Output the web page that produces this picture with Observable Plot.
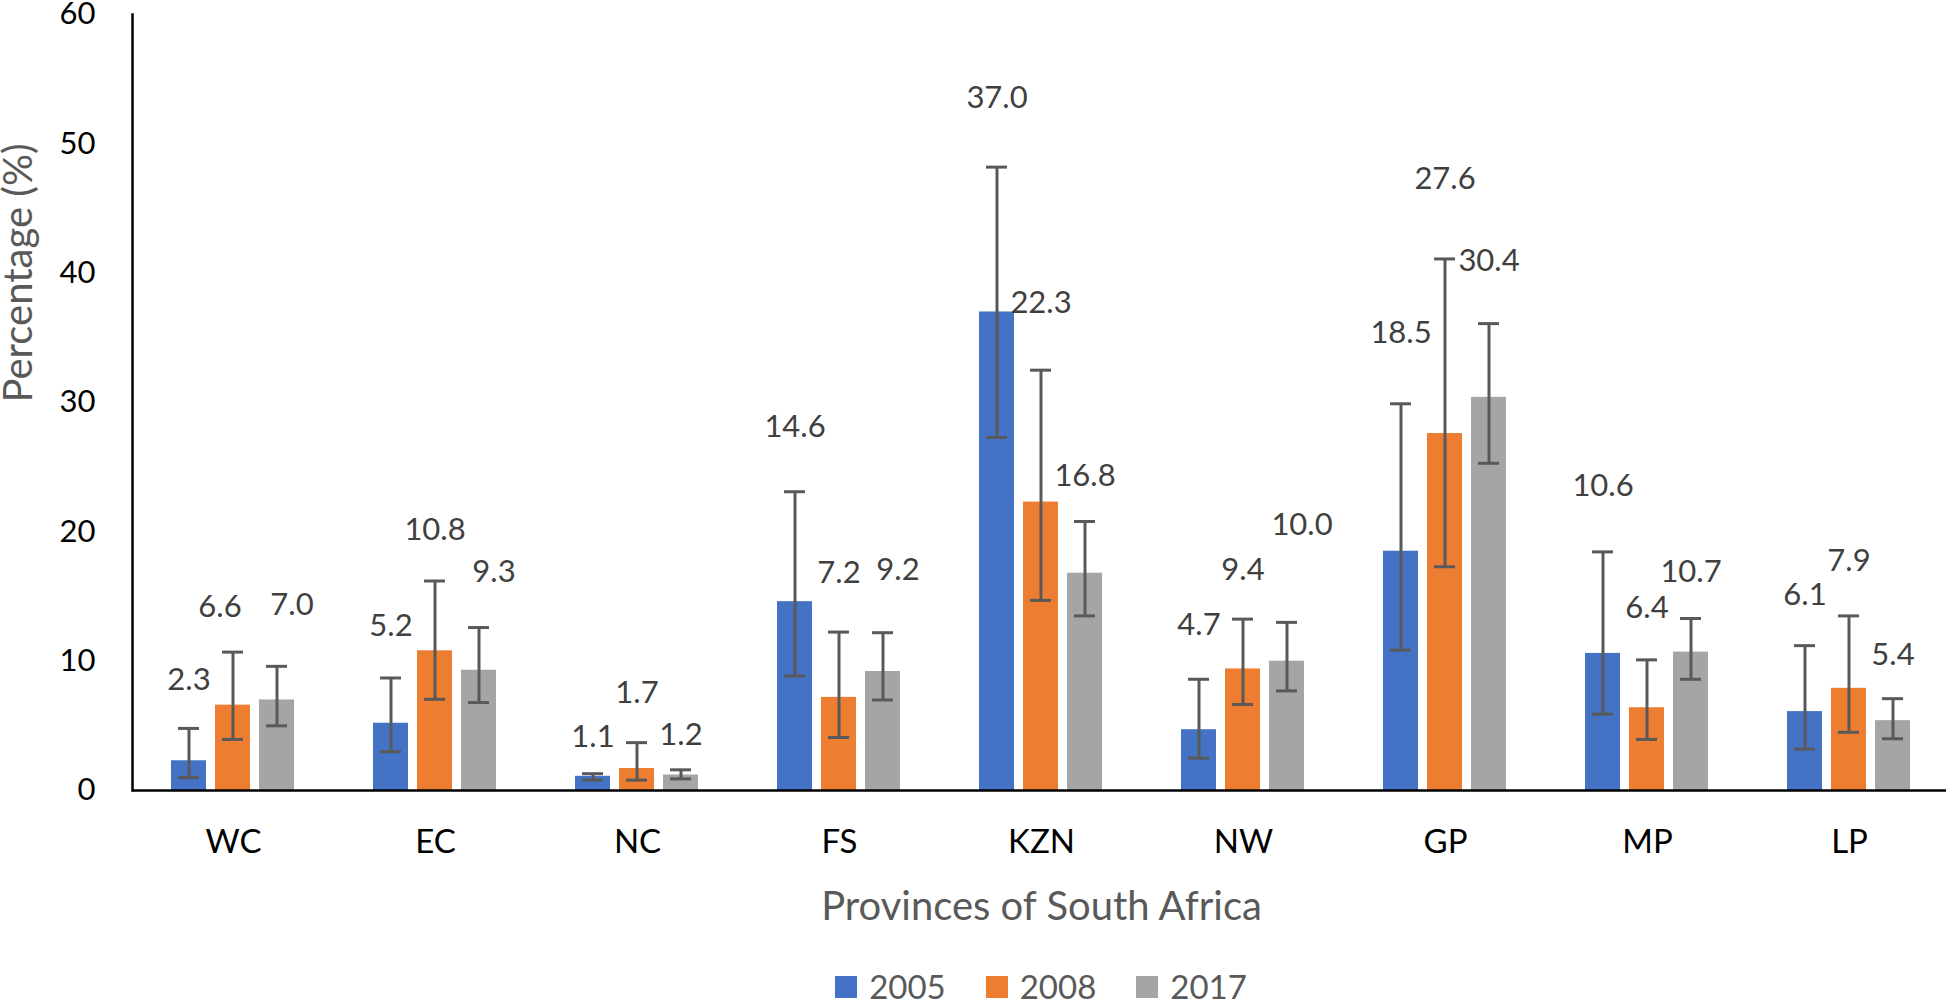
<!DOCTYPE html>
<html>
<head>
<meta charset="utf-8">
<script src="https://cdn.jsdelivr.net/npm/d3@7"></script>
<script src="https://cdn.jsdelivr.net/npm/@observablehq/plot@0.6"></script>
<style>
  body { margin: 0; background: #fff; font-family: Lato, sans-serif; }
  #chart svg { display: block; }
  .legend { display: flex; justify-content: center; align-items: center; margin-left: 136px; margin-top: 25px;
            font-size: 33px; line-height: 33px; color: #595959; }
  .legend .item { display: flex; align-items: center; margin: 0 20px; }
  .legend .sw { width: 22px; height: 22px; margin-right: 12px; }
</style>
</head>
<body>
<div id="chart"></div>
<div class="legend" id="legend"></div>
<script>
// ---- data ----
const provinces = ["WC", "EC", "NC", "FS", "KZN", "NW", "GP", "MP", "LP"];
const years = ["2005", "2008", "2017"];
const colors = ["#4472C4", "#ED7D31", "#A5A5A5"];

const v2005 = [2.3, 5.2, 1.1, 14.6, 37.0, 4.7, 18.5, 10.6, 6.1];
const v2008 = [6.6, 10.8, 1.7, 7.2, 22.3, 9.4, 27.6, 6.4, 7.9];
const v2017 = [7.0, 9.3, 1.2, 9.2, 16.8, 10.0, 30.4, 10.7, 5.4];

// lower / upper error-bar limits
const lo2005 = [1.0, 3.0, 0.8, 8.85, 27.3, 2.5, 10.85, 5.9, 3.2];
const hi2005 = [4.8, 8.7, 1.3, 23.1, 48.2, 8.6, 29.9, 18.45, 11.2];
const lo2008 = [3.95, 7.05, 0.8, 4.1, 14.7, 6.65, 17.3, 3.95, 4.5];
const hi2008 = [10.7, 16.2, 3.7, 12.25, 32.5, 13.25, 41.1, 10.1, 13.5];
const lo2017 = [5.0, 6.8, 0.9, 7.0, 13.5, 7.7, 25.3, 8.6, 4.0];
const hi2017 = [9.6, 12.6, 1.6, 12.2, 20.8, 13.0, 36.1, 13.3, 7.1];

// value at which each data label sits (percentage units, as placed in the source)
const lab2005 = [8.5, 12.7, 4.1, 28.1, 53.5, 12.8, 35.4, 23.5, 15.1];
const lab2008 = [14.2, 20.1, 7.5, 16.8, 37.7, 17.05, 47.3, 14.1, 17.75];
const lab2017 = [14.3, 16.9, 4.3, 17.05, 24.3, 20.55, 40.9, 16.9, 10.5];

const yTicks = [0, 10, 20, 30, 40, 50, 60];
const xTitle = "Provinces of South Africa";
const yTitle = "Percentage (%)";

// labels that the source nudged sideways
const nudgedLeft = ["WC|2008"];
const nudgedRight = ["WC|2017", "FS|2017", "NW|2017", "EC|2017"];

// ---- build table ----
const values = [v2005, v2008, v2017];
const lows = [lo2005, lo2008, lo2017];
const highs = [hi2005, hi2008, hi2017];
const labs = [lab2005, lab2008, lab2017];
const rows = [];
provinces.forEach((p, i) => years.forEach((yr, j) => rows.push({
  province: p, year: yr, key: p + "|" + yr,
  value: values[j][i], lo: lows[j][i], hi: highs[j][i], labelAt: labs[j][i]
})));

const errColor = "#595959";
const labelOpts = { fx: "province", x: "year", y: "labelAt", text: d => d.value.toFixed(1),
                    fontSize: 31, fill: "#404040" };

const plot = Plot.plot({
  width: 1946,
  height: 945,
  marginLeft: 132,
  marginRight: -4,
  marginTop: 14,
  marginBottom: 155,
  style: { fontFamily: "Lato, sans-serif", background: "white" },
  fx: { domain: provinces, padding: 0, label: null },
  x: { domain: years, paddingInner: 0.2, paddingOuter: 0.87, axis: null },
  y: { domain: [0, 60] },
  color: { domain: years, range: colors },
  marks: [
    Plot.barY(rows, { fx: "province", x: "year", y: "value", fill: "year" }),
    Plot.ruleX(rows, { fx: "province", x: "year", y1: "lo", y2: "hi", stroke: errColor, strokeWidth: 3 }),
    Plot.tickY(rows, { fx: "province", x: "year", y: "lo", stroke: errColor, strokeWidth: 3, inset: 7 }),
    Plot.tickY(rows, { fx: "province", x: "year", y: "hi", stroke: errColor, strokeWidth: 3, inset: 7 }),
    Plot.text(rows, { ...labelOpts, filter: d => !nudgedLeft.includes(d.key) && !nudgedRight.includes(d.key) }),
    Plot.text(rows, { ...labelOpts, filter: d => nudgedLeft.includes(d.key), dx: -13 }),
    Plot.text(rows, { ...labelOpts, filter: d => nudgedRight.includes(d.key), dx: 15 }),
    Plot.ruleY([0], { stroke: "#000", strokeWidth: 2.5 }),
    Plot.frame({ anchor: "left", facetAnchor: "left", stroke: "#000", strokeWidth: 2.5 }),
    Plot.axisY({ ticks: yTicks, tickSize: 0, tickPadding: 37, fontSize: 31, fill: "#000", label: null }),
    Plot.axisFx({ anchor: "bottom", tickSize: 0, tickPadding: 39, fontSize: 33, fill: "#000", label: null }),
    Plot.axisFx({ anchor: "bottom", ticks: [], tickSize: 0, label: xTitle, labelAnchor: "center",
                  labelOffset: 129, fontSize: 40, fill: "#595959" }),
    Plot.text([yTitle], { frameAnchor: "left", facetAnchor: "left", rotate: -90, dx: -113,
                          fontSize: 40, fill: "#595959" })
  ]
});
document.getElementById("chart").appendChild(plot);

// ---- legend ----
const legend = document.getElementById("legend");
years.forEach((yr, j) => {
  const item = document.createElement("div");
  item.className = "item";
  const sw = document.createElement("span");
  sw.className = "sw";
  sw.style.background = colors[j];
  const t = document.createElement("span");
  t.textContent = yr;
  item.appendChild(sw);
  item.appendChild(t);
  legend.appendChild(item);
});
</script>
</body>
</html>
